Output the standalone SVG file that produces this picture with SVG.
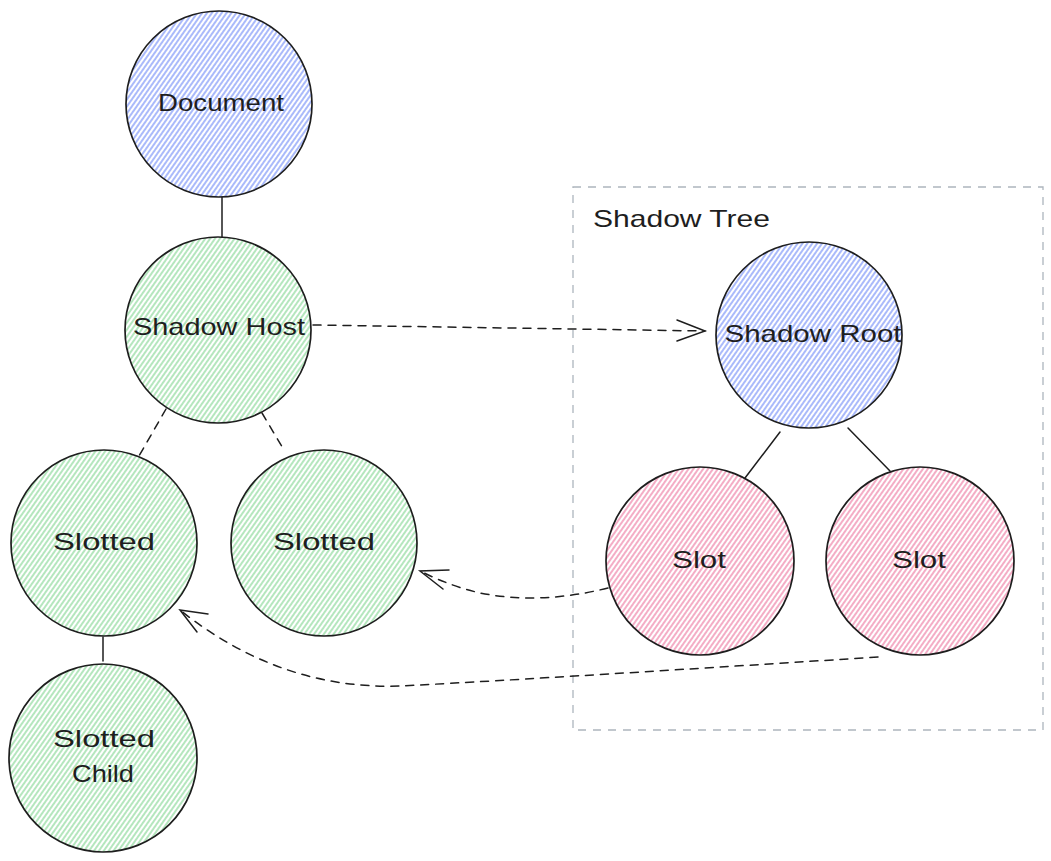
<svg xmlns="http://www.w3.org/2000/svg" width="1051" height="861" viewBox="0 0 1051 861">
  <style>
    .outline { stroke: #1e1e1e; stroke-width: 1.7; }
    .lbl { font-family: "Liberation Sans", Arial, sans-serif; font-size: 24px; fill: #1e1e1e; text-anchor: middle; }
    .conn { fill: none; stroke: #1e1e1e; stroke-width: 1.5; stroke-linecap: round; }
    .dash { stroke-dasharray: 8 7; }
  </style>
  <defs>
    <pattern id="hBlue" patternUnits="userSpaceOnUse" width="4" height="4" patternTransform="rotate(35)">
      <rect width="4" height="4" fill="#ffffff"/>
      <line x1="1" y1="0" x2="1" y2="4" stroke="#4c6ef5" stroke-width="1.2" stroke-opacity="0.8"/>
    </pattern>
    <pattern id="hGreen" patternUnits="userSpaceOnUse" width="4" height="4" patternTransform="rotate(35)">
      <rect width="4" height="4" fill="#ffffff"/>
      <line x1="1" y1="0" x2="1" y2="4" stroke="#40c057" stroke-width="1.2" stroke-opacity="0.65"/>
    </pattern>
    <pattern id="hPink" patternUnits="userSpaceOnUse" width="4" height="4" patternTransform="rotate(35)">
      <rect width="4" height="4" fill="#ffffff"/>
      <line x1="1" y1="0" x2="1" y2="4" stroke="#e64980" stroke-width="1.2" stroke-opacity="0.75"/>
    </pattern>
  </defs>
  <rect width="1051" height="861" fill="#ffffff"/>

  <g id="shadow-tree">
    <rect x="573" y="187" width="470" height="543" fill="none" stroke="#adb5bd" stroke-width="1.3" stroke-dasharray="8 7"/>
    <text x="593" y="227" class="lbl" style="text-anchor:start" textLength="177" lengthAdjust="spacingAndGlyphs">Shadow Tree</text>
  </g>

  <g id="connectors">
    <line class="conn" x1="222" y1="197" x2="222" y2="237"/>
    <line class="conn dash" x1="166" y1="409" x2="139" y2="456"/>
    <line class="conn dash" x1="262" y1="413" x2="284" y2="450"/>
    <line class="conn" x1="103" y1="637" x2="103" y2="661"/>
    <line class="conn" x1="780" y1="432" x2="745" y2="478"/>
    <line class="conn" x1="848" y1="428" x2="890" y2="471"/>
    <path class="conn dash" d="M313 325 L705 331"/>
    <path class="conn" d="M677 320 L705 331 L677 341"/>
    <path class="conn dash" d="M608 588 Q540 605 480 593 Q450 586 420 571"/>
    <path class="conn" d="M449 570 L420 571 L443 589"/>
    <path class="conn dash" d="M878 657 Q520 680 400 686 Q280 690 180 610"/>
    <path class="conn" d="M208 614 L180 610 L197 632"/>
  </g>

  <g id="document">
    <circle cx="219" cy="104" r="93" fill="url(#hBlue)" class="outline"/>
    <text x="221" y="111" class="lbl" textLength="126" lengthAdjust="spacingAndGlyphs">Document</text>
  </g>
  <g id="shadow-host">
    <circle cx="218" cy="330" r="93" fill="url(#hGreen)" class="outline"/>
    <text x="219" y="335" class="lbl" textLength="172" lengthAdjust="spacingAndGlyphs">Shadow Host</text>
  </g>
  <g id="slotted-1">
    <circle cx="104" cy="543" r="93" fill="url(#hGreen)" class="outline"/>
    <text x="104" y="550" class="lbl" textLength="102" lengthAdjust="spacingAndGlyphs">Slotted</text>
  </g>
  <g id="slotted-2">
    <circle cx="324" cy="543" r="93" fill="url(#hGreen)" class="outline"/>
    <text x="324" y="550" class="lbl" textLength="102" lengthAdjust="spacingAndGlyphs">Slotted</text>
  </g>
  <g id="slotted-child">
    <circle cx="103" cy="758" r="94" fill="url(#hGreen)" class="outline"/>
    <text x="104" y="747" class="lbl" textLength="102" lengthAdjust="spacingAndGlyphs">Slotted</text>
    <text x="103" y="782" class="lbl" textLength="62" lengthAdjust="spacingAndGlyphs">Child</text>
  </g>
  <g id="shadow-root">
    <circle cx="809" cy="335" r="93" fill="url(#hBlue)" class="outline"/>
    <text x="813" y="342" class="lbl" textLength="177" lengthAdjust="spacingAndGlyphs">Shadow Root</text>
  </g>
  <g id="slot-1">
    <circle cx="700" cy="561" r="94" fill="url(#hPink)" class="outline"/>
    <text x="699" y="568" class="lbl" textLength="54" lengthAdjust="spacingAndGlyphs">Slot</text>
  </g>
  <g id="slot-2">
    <circle cx="920" cy="561" r="94" fill="url(#hPink)" class="outline"/>
    <text x="919" y="568" class="lbl" textLength="54" lengthAdjust="spacingAndGlyphs">Slot</text>
  </g>
</svg>
